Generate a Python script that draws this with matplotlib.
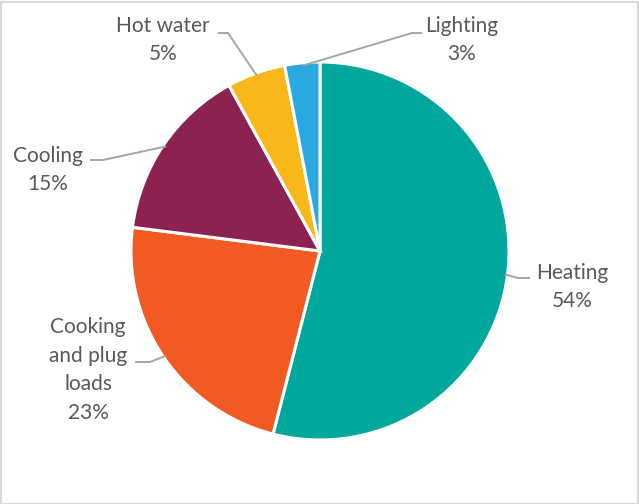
import matplotlib.pyplot as plt
from matplotlib.patches import Rectangle
import numpy as np

W, H = 639, 504

categories = ["Heating", "Cooking\nand plug\nloads", "Cooling", "Hot water", "Lighting"]
shares = [54, 23, 15, 5, 3]
colors = ["#00A79D", "#F15A22", "#8B2252", "#F9B819", "#2AA9E0"]

# label block centre (px) and leader elbow -> end points (px)
label_pos = [(572, 287), (88, 370), (48, 170), (163, 40), (462, 40)]
elbows = [((518, 278), (530, 278)),
          ((150, 362), (135, 362)),
          ((103, 160), (90, 160)),
          ((228, 33), (218, 33)),
          ((412, 33), (422, 33))]

CX, CY, R = 320, 251, 189

fig = plt.figure(figsize=(W / 100, H / 100), dpi=100)
ax = fig.add_axes([(CX - R) / W, (H - CY - R) / H, 2 * R / W, 2 * R / H])
ax.axis("off")

wedges, _ = ax.pie(shares, colors=colors, startangle=90, counterclock=False,
                   radius=1, center=(0, 0),
                   wedgeprops=dict(edgecolor="white", linewidth=2.2))
ax.set_xlim(-1, 1)
ax.set_ylim(-1, 1)


def px(x, y):
    return (x - CX) / R, (CY - y) / R


for w, lab, val, pos, (e1, e2) in zip(wedges, categories, shares, label_pos, elbows):
    mid = np.deg2rad((w.theta1 + w.theta2) / 2)
    sx, sy = 0.985 * np.cos(mid), 0.985 * np.sin(mid)
    p1 = px(*e1)
    p2 = px(*e2)
    ax.plot([sx, p1[0], p2[0]], [sy, p1[1], p2[1]], color="#A6A6A6",
            linewidth=1.4, clip_on=False, solid_capstyle="butt")
    tx, ty = px(*pos)
    ax.text(tx, ty, f"{lab}\n{val}%", ha="center", va="center",
            fontsize=15, family="Lato", color="#595959",
            linespacing=1.53, clip_on=False)

fig.patches.append(Rectangle((0.5 / W, 0.5 / H), 1 - 2 / W, 1 - 2 / H,
                             transform=fig.transFigure, fill=False,
                             edgecolor="#D9D9D9", linewidth=1.5))

fig.savefig("out.png", dpi=100)
